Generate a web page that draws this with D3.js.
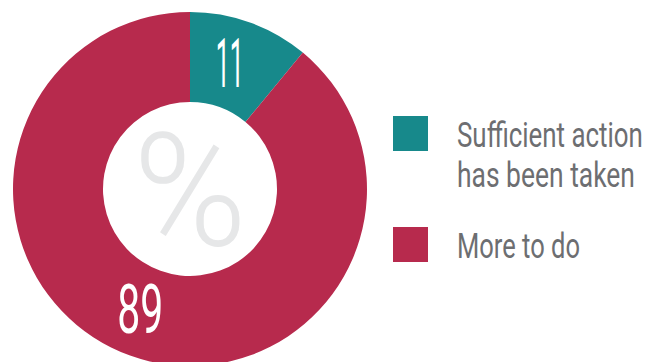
<!DOCTYPE html>
<html><head><meta charset="utf-8">
<script src="https://cdn.jsdelivr.net/npm/d3@7"></script>
<style>body{margin:0;background:#fff}svg{display:block}</style>
</head><body>
<svg id="chart" width="657" height="362"></svg>
<script>
const categories = ["Sufficient action has been taken", "More to do"];
const legendLines = [["Sufficient action", "has been taken"], ["More to do"]];
const values = [11, 89];
const colors = ["#17898b", "#b72a4d"];
const centerSymbol = "%";

const svg = d3.select("#chart");
const cx = 190, cy = 189, outerR = 177, innerR = 87;
const g = svg.append("g").attr("transform", `translate(${cx},${cy})`);

const pie = d3.pie().sort(null).value(d => d);
const arcs = pie(values);
const arc = d3.arc().innerRadius(innerR).outerRadius(outerR);
const labelArc = d3.arc().innerRadius(132).outerRadius(132);

g.selectAll("path").data(arcs).join("path")
  .attr("d", arc).attr("fill", (d, i) => colors[i]);

// fit a text horizontally to a target width by a transform about (x,y)
function condense(sel, x, y, width, anchor) {
  const node = sel.node();
  const w = node.getComputedTextLength();
  const k = width / w;
  sel.attr("x", 0).attr("y", 0)
     .attr("transform", `translate(${x},${y}) scale(${k},1)`);
}

// center symbol
const pct = g.append("text").text(centerSymbol)
  .attr("text-anchor", "middle")
  .attr("font-family", "Roboto").attr("font-weight", 300)
  .attr("font-size", 157).attr("fill", "#e6e7e8");
condense(pct, 0, 56, 114);

// value labels
const labelWidths = [28, 46];
g.selectAll("text.val").data(arcs).join("text").attr("class", "val")
  .text(d => d.data)
  .attr("text-anchor", "middle")
  .attr("font-family", "Roboto").attr("font-weight", 400)
  .attr("font-size", 69).attr("fill", "#ffffff")
  .each(function(d, i) {
    const c = labelArc.centroid(d);
    condense(d3.select(this), c[0] - 5, c[1] + 24 - (i === 1 ? 4 : 2), labelWidths[i]);
  });

// legend
const legendWidths = [[186, 178], [123]];
const leg = svg.append("g").attr("transform", "translate(393,116)");
const items = leg.selectAll("g").data(categories).join("g")
  .attr("transform", (d, i) => `translate(0,${i * 111})`);
items.append("rect").attr("width", 35).attr("height", 35)
  .attr("fill", (d, i) => colors[i]);
items.each(function(d, i) {
  const item = d3.select(this);
  legendLines[i].forEach((line, j) => {
    const t = item.append("text").text(line)
      .attr("font-family", "Roboto").attr("font-weight", 400)
      .attr("font-size", 35).attr("fill", "#6d6e71");
    condense(t, 64, 31 + j * 40, legendWidths[i][j]);
  });
});
</script>
</body></html>
